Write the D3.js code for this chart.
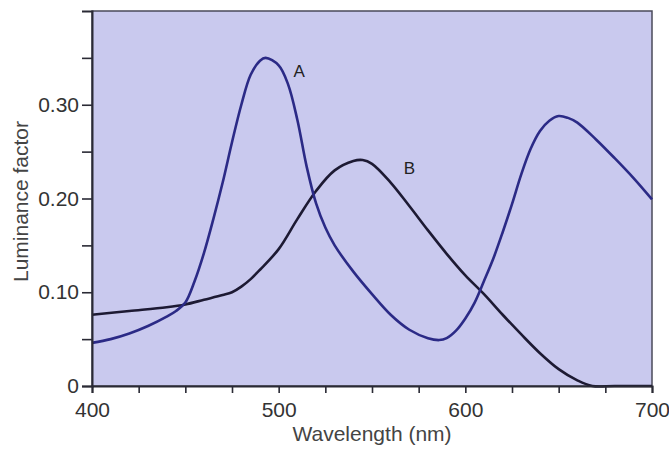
<!DOCTYPE html>
<html>
<head>
<meta charset="utf-8">
<script src="https://cdn.jsdelivr.net/npm/d3@7"></script>
<style>
  body { margin: 0; background: #fff; }
  svg { display: block; font-family: "Liberation Sans", Arial, sans-serif; }
</style>
</head>
<body>
<div id="chart"></div>
<script>
// wavelength samples (nm) and luminance factor for each curve
const waveA = [400, 410, 420, 430, 440, 445, 450, 455, 460, 465, 470, 475, 480, 485, 490, 493, 500, 505, 510, 515, 520, 525, 530, 540, 550, 560, 570, 580, 586, 590, 595, 600, 605, 610, 615, 620, 625, 630, 635, 640, 645, 650, 655, 660, 670, 680, 690, 700];
const lumA = [0.046, 0.050, 0.056, 0.064, 0.074, 0.080, 0.089, 0.112, 0.142, 0.178, 0.217, 0.260, 0.300, 0.332, 0.347, 0.350, 0.342, 0.322, 0.284, 0.234, 0.195, 0.169, 0.150, 0.122, 0.098, 0.076, 0.060, 0.051, 0.049, 0.051, 0.059, 0.072, 0.089, 0.112, 0.136, 0.164, 0.194, 0.226, 0.253, 0.272, 0.283, 0.288, 0.286, 0.281, 0.263, 0.243, 0.222, 0.199];

const waveB = [400, 420, 440, 450, 460, 470, 475, 480, 485, 490, 500, 510, 520, 530, 540, 545, 550, 560, 570, 580, 590, 600, 610, 620, 630, 640, 650, 660, 668, 680, 700];
const lumB = [0.076, 0.080, 0.084, 0.087, 0.092, 0.097, 0.100, 0.106, 0.114, 0.124, 0.146, 0.178, 0.208, 0.230, 0.240, 0.241, 0.237, 0.217, 0.192, 0.166, 0.141, 0.118, 0.098, 0.076, 0.055, 0.035, 0.018, 0.006, 0.000, 0.000, 0.000];

const xTicks = [400, 425, 450, 475, 500, 525, 550, 575, 600, 625, 650, 675, 700];
const yTicks = [0, 0.05, 0.10, 0.15, 0.20, 0.25, 0.30, 0.35];

const width = 669, height = 449;

const svg = d3.select("#chart").append("svg")
  .attr("width", width)
  .attr("height", height);

const x = d3.scaleLinear().domain([400, 700]).range([92, 652]);
const y = d3.scaleLinear().domain([0, 0.4]).range([386, 11]);

// shaded plot area with frame
svg.append("rect")
  .attr("x", x(400)).attr("y", y(0.4))
  .attr("width", x(700) - x(400)).attr("height", y(0) - y(0.4))
  .style("fill", "#c9c9ee")
  .style("stroke", "#4a4a5a")
  .style("stroke-width", 1.5);

// curves
const line = d3.line()
  .x(d => x(d[0]))
  .y(d => y(Math.max(0, d[1])))
  .curve(d3.curveCatmullRom.alpha(0.5));

svg.append("path")
  .datum(d3.zip(waveB, lumB))
  .attr("d", line)
  .style("fill", "none")
  .style("stroke", "#1d1a33")
  .style("stroke-width", 2.6);

svg.append("path")
  .datum(d3.zip(waveA, lumA))
  .attr("d", line)
  .style("fill", "none")
  .style("stroke", "#2b2a86")
  .style("stroke-width", 2.6);

// axes
const xAxis = svg.append("g")
  .attr("transform", `translate(0, ${y(0)})`)
  .call(d3.axisBottom(x)
    .tickValues(xTicks)
    .tickSize(7)
    .tickPadding(9)
    .tickFormat(d => d % 100 === 0 ? d : ""));

const yAxis = svg.append("g")
  .attr("transform", `translate(${x(400)}, 0)`)
  .call(d3.axisLeft(y)
    .tickValues(yTicks)
    .tickSize(10)
    .tickPadding(3)
    .tickFormat(d => {
      const r = Math.round(d * 100);
      if (r === 0) return "0";
      return r % 10 === 0 ? d.toFixed(2) : "";
    }));

[xAxis, yAxis].forEach(g => {
  g.select(".domain").style("stroke", "#2a2a35").style("stroke-width", 2);
  g.selectAll(".tick line").style("stroke", "#2a2a35").style("stroke-width", 1.6);
  g.selectAll(".tick text")
    .style("font-size", "21px")
    .style("fill", "#333");
});

// axis titles
svg.append("text")
  .attr("x", (x(400) + x(700)) / 2)
  .attr("y", 441)
  .attr("text-anchor", "middle")
  .style("font-size", "21px")
  .style("fill", "#444")
  .text("Wavelength (nm)");

svg.append("text")
  .attr("transform", `translate(28, ${(y(0) + y(0.4)) / 2 + 3}) rotate(-90)`)
  .attr("text-anchor", "middle")
  .style("font-size", "21px")
  .style("fill", "#444")
  .text("Luminance factor");

// curve labels
svg.append("text")
  .attr("x", x(511)).attr("y", y(0.330))
  .attr("text-anchor", "middle")
  .style("font-size", "17px")
  .style("fill", "#222")
  .text("A");

svg.append("text")
  .attr("x", x(570)).attr("y", y(0.226))
  .attr("text-anchor", "middle")
  .style("font-size", "17px")
  .style("fill", "#222")
  .text("B");
</script>
</body>
</html>
